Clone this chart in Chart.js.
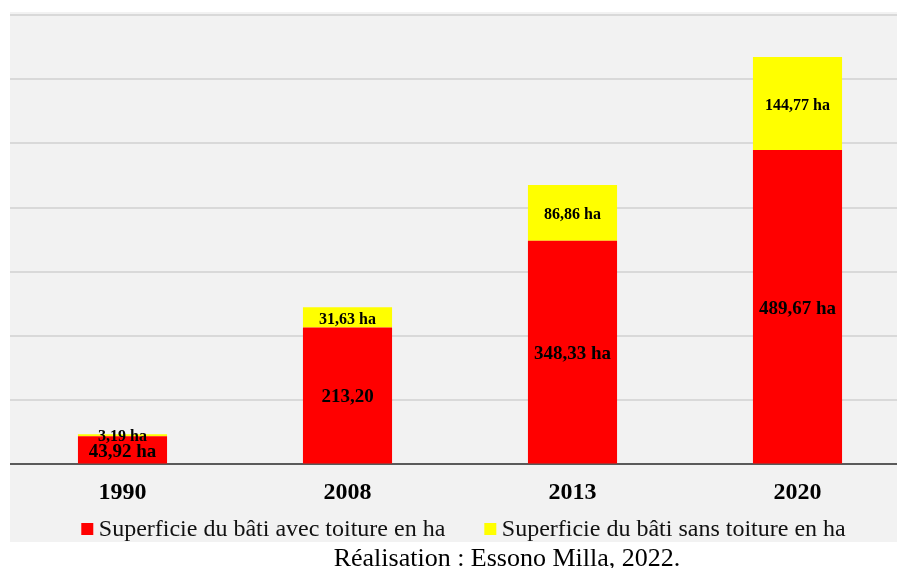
<!DOCTYPE html>
<html>
<head>
<meta charset="utf-8">
<script src="https://cdn.jsdelivr.net/npm/chart.js@4"></script>
<style>
  html, body { margin: 0; padding: 0; background: #ffffff; width: 897px; height: 568px; overflow: hidden; position: relative; }
  #bg { position: absolute; left: 10px; top: 12px; width: 887px; height: 530px; background: #f2f2f2; }
  #wrap { position: absolute; left: 10px; top: 12px; width: 900px; height: 536px; }
  #credit { position: absolute; left: 207px; width: 600px; top: 543px; text-align: center; white-space: nowrap;
            font-family: "Liberation Serif", serif; font-size: 26px; color: #000; line-height: 30px; z-index: 2; }
</style>
</head>
<body>
<div id="bg"></div>
<div id="wrap"><canvas id="c" width="900" height="536"></canvas></div>
<div id="credit">Réalisation : Essono Milla, 2022.</div>
<script>
// ---- data ----
const years = ["1990", "2008", "2013", "2020"];
const avecToiture = [43.92, 213.20, 348.33, 489.67];
const sansToiture = [3.19, 31.63, 86.86, 144.77];
const avecLabels = ["43,92 ha", "213,20", "348,33 ha", "489,67 ha"];
const sansLabels = ["3,19 ha", "31,63 ha", "86,86 ha", "144,77 ha"];
const seriesNames = ["Superficie du bâti avec toiture en ha", "Superficie du bâti sans toiture en ha"];
const seriesColors = ["#ff0000", "#ffff00"];
const yMax = 700;
const yStep = 100;

const SERIF = "'Liberation Serif', 'Times New Roman', serif";

const barLabelPlugin = {
  id: 'barLabels',
  afterDatasetsDraw(chart) {
    const ctx = chart.ctx;
    const texts = [avecLabels, sansLabels];
    const sizes = [19, 16];
    ctx.save();
    ctx.fillStyle = '#000';
    ctx.textAlign = 'center';
    ctx.textBaseline = 'middle';
    chart.data.datasets.forEach((ds, di) => {
      const meta = chart.getDatasetMeta(di);
      ctx.font = 'bold ' + sizes[di] + 'px ' + SERIF;
      meta.data.forEach((el, i) => {
        const y = (el.y + el.base) / 2 + 2;
        ctx.fillText(texts[di][i], el.x, y);
      });
    });
    ctx.restore();
  }
};

// custom legend drawn under the axis labels
const legendPlugin = {
  id: 'customLegend',
  afterDraw(chart) {
    const ctx = chart.ctx;
    const box = 12, gapText = 5.5, gapItem = 39;
    ctx.save();
    ctx.font = '24px ' + SERIF;
    ctx.textBaseline = 'alphabetic';
    ctx.textAlign = 'left';
    const widths = chart.data.datasets.map(d => ctx.measureText(d.label).width);
    let total = 0;
    widths.forEach((w, i) => { total += box + gapText + w + (i ? gapItem : 0); });
    const cx = (chart.chartArea.left + chart.chartArea.right) / 2 + 3.5;
    let x = cx - total / 2;
    const baseY = 523.7;
    chart.data.datasets.forEach((d, i) => {
      ctx.fillStyle = d.backgroundColor;
      ctx.fillRect(x, baseY - 12.7, box, box);
      x += box + gapText;
      ctx.fillStyle = '#111';
      ctx.fillText(d.label, x, baseY);
      x += widths[i] + gapItem;
    });
    ctx.restore();
  }
};

new Chart(document.getElementById('c'), {
  type: 'bar',
  data: {
    labels: years,
    datasets: [
      { label: seriesNames[0], data: avecToiture, backgroundColor: seriesColors[0], borderWidth: 0 },
      { label: seriesNames[1], data: sansToiture, backgroundColor: seriesColors[1], borderWidth: 0 }
    ]
  },
  options: {
    responsive: false,
    animation: false,
    layout: { padding: { top: 3, left: 0, right: 0, bottom: 35.6 } },
    datasets: { bar: { barPercentage: 0.396, categoryPercentage: 1 } },
    scales: {
      x: {
        stacked: true,
        grid: { display: false },
        border: { display: true, color: '#5a5a5a', width: 2 },
        ticks: { color: '#000', font: { family: SERIF, size: 24, weight: 'bold' }, padding: 5.6, autoSkip: false, maxRotation: 0 }
      },
      y: {
        stacked: true,
        min: 0, max: yMax,
        ticks: { display: false, stepSize: yStep },
        grid: {
          drawTicks: false,
          lineWidth: 2,
          color: (c) => (c.tick && c.tick.value === 0) ? 'rgba(0,0,0,0)' : '#d9d9d9'
        },
        border: { display: false }
      }
    },
    plugins: {
      tooltip: { enabled: false },
      legend: { display: false }
    }
  },
  plugins: [barLabelPlugin, legendPlugin]
});
</script>
</body>
</html>
